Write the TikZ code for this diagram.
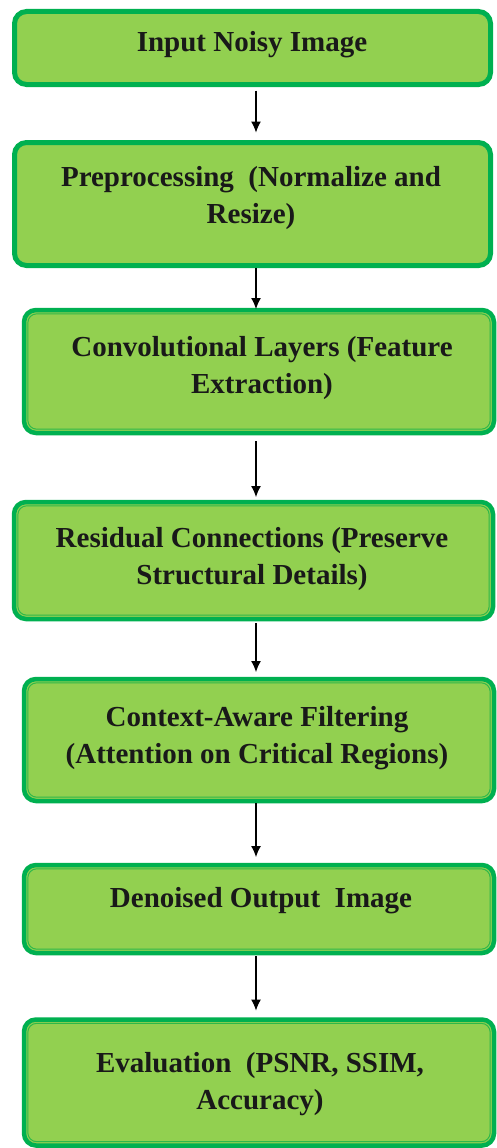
\documentclass[tikz,border=0pt]{standalone}
\usepackage{fontspec}
\setmainfont{Liberation Serif}
\usetikzlibrary{calc,arrows.meta}
\definecolor{boxfill}{HTML}{92D050}
\definecolor{boxline}{HTML}{00B050}
\definecolor{innerln}{HTML}{2DB84A}
\tikzset{
  flowbox/.style={draw=boxline, fill=boxfill, rounded corners=12pt, inner sep=0pt, outer sep=0pt},
  singlebox/.style={flowbox, line width=5pt},
  doublebox/.style={flowbox, line width=4.5pt},
  innerline/.style={draw=innerln, line width=1pt, rounded corners=9pt},
  boxtext/.style={font=\bfseries\fontsize{29}{37}\selectfont, align=center, inner sep=0pt, text=black!90},
  arr/.style={draw=black, line width=1.1pt, -{Latex[length=11pt,width=10pt]}}
}
\newcommand{\innerframe}[1]{\draw[innerline] ($(#1.north west)+(3.8,3.8)$) rectangle ($(#1.south east)+(-3.8,-3.8)$);}
\begin{document}
\begin{tikzpicture}[x=1pt,y=-1pt]
\useasboundingbox (0,0) rectangle (497,1148);
\coordinate (ax) at (256,0);
% boxes
\node[singlebox, minimum width=476pt, minimum height=73pt] (b1) at (252.5,48) {};
\node[singlebox, minimum width=476pt, minimum height=123pt] (b2) at (252.5,204) {};
\node[doublebox, minimum width=470pt, minimum height=123pt] (b3) at (259,371.5) {};
\node[doublebox, minimum width=479pt, minimum height=117pt] (b4) at (253.5,560.5) {};
\node[doublebox, minimum width=470pt, minimum height=122pt] (b5) at (259,740) {};
\node[doublebox, minimum width=470pt, minimum height=88pt] (b6) at (259,909) {};
\node[doublebox, minimum width=470pt, minimum height=126pt] (b7) at (259,1082.5) {};
\innerframe{b3}
\innerframe{b4}
\innerframe{b5}
\innerframe{b6}
\innerframe{b7}
% texts
\node[boxtext] (t1) at (252,45) {Input Noisy Image};
\node[boxtext] (t2) at (251,198) {Preprocessing\ \ (Normalize and\\Resize)};
\node[boxtext] (t3) at (262,368) {Convolutional Layers (Feature\\Extraction)};
\node[boxtext] (t4) at (252,559) {Residual Connections (Preserve\\Structural Details)};
\node[boxtext] (t5) at (257,738) {Context-Aware Filtering\\(Attention on Critical Regions)};
\node[boxtext] (t6) at (261,901) {Denoised Output\ \ Image};
\node[boxtext] (t7) at (260,1084) {Evaluation\ \ (PSNR, SSIM,\\Accuracy)};
% arrows
\draw[arr, shorten <=6pt, shorten >=10pt] (b1.south -| ax) -- (b2.north -| ax);
\draw[arr, shorten <=2pt, shorten >=1pt] (b2.south -| ax) -- (b3.north -| ax);
\draw[arr, shorten <=8pt, shorten >=5pt] (b3.south -| ax) -- (b4.north -| ax);
\draw[arr, shorten <=4pt, shorten >=7pt] (b4.south -| ax) -- (b5.north -| ax);
\draw[arr, shorten <=2pt, shorten >=8pt] (b5.south -| ax) -- (b6.north -| ax);
\draw[arr, shorten <=3pt, shorten >=9pt] (b6.south -| ax) -- (b7.north -| ax);
\end{tikzpicture}
\end{document}
